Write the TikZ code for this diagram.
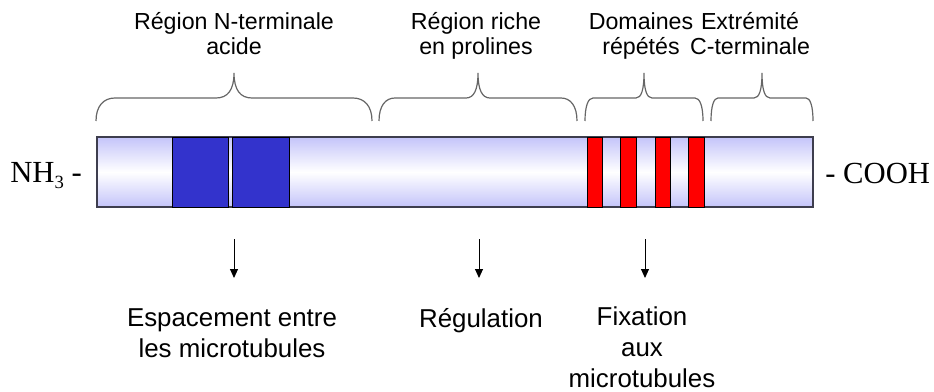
\documentclass[tikz,border=0pt]{standalone}
\usepackage{fontspec}
\setmainfont{Liberation Sans}
\newfontfamily\serifx{Liberation Serif}
\usetikzlibrary{arrows.meta}
\definecolor{lav}{HTML}{C4C4FA}
\definecolor{barline}{HTML}{3E3E4E}
\definecolor{domblue}{HTML}{3333CC}
\definecolor{domred}{HTML}{FF0000}
\definecolor{braceg}{HTML}{666666}
\newcommand\protbrace[5]{%
 \draw[bracecol] (#1,121) .. controls (#1,106) and ({#1+0.4*#4},98) .. ({#1+#4},98)
   -- ({#2-#5},98) .. controls ({#2-0.35*#5},98) and (#2,90) .. (#2,73)
   .. controls (#2,90) and ({#2+0.35*#5},98) .. ({#2+#5},98)
   -- ({#3-#4},98) .. controls ({#3-0.4*#4},98) and (#3,106) .. (#3,121);}
\begin{document}
\begin{tikzpicture}[x=0.75pt,y=-0.75pt,
  toptxt/.style={font=\fontsize{17.4}{18.75}\selectfont, align=center, anchor=base, inner sep=0pt},
  bottxt/.style={font=\fontsize{19.4}{22.9}\selectfont, align=center, anchor=base, inner sep=0pt},
  endtxt/.style={font=\serifx\fontsize{23}{23}\selectfont, anchor=base west, inner sep=0pt},
  bracecol/.style={draw=braceg, line width=0.9pt},
  arr/.style={-{Triangle[length=6.75pt,width=6pt]}, line width=0.75pt},
  bluedom/.style={fill=domblue, draw=black, line width=0.6pt},
  reddom/.style={fill=domred, draw=black, line width=0.6pt}]
\useasboundingbox (0,0) rectangle (934,392);
% protein bar
\draw[draw=barline, line width=1.1pt, top color=lav, bottom color=lav, middle color=white] (97,137) rectangle (813,207);
% acidic N-terminal domains
\draw[bluedom] (172,137) rectangle (228,207);
\draw[bluedom] (232,137) rectangle (289,207);
% repeats
\draw[reddom] (587,137) rectangle (602,207);
\draw[reddom] (620,137) rectangle (636,207);
\draw[reddom] (655,137) rectangle (670,207);
\draw[reddom] (688,137) rectangle (704,207);
% braces
\protbrace{96}{234}{372}{19}{18}
\protbrace{379}{478}{577}{16}{12}
\protbrace{585}{644}{703}{8}{8}
\protbrace{711}{762}{813}{7}{8}
% labels (anchor=base is the baseline of the last line)
\node[toptxt] (t1) at (234,55) {Région N-terminale\\acide};
\node[toptxt] (t2) at (476,55) {Région riche\\en prolines};
\node[toptxt] (t3) at (641,55) {Domaines\\répétés};
\node[toptxt] (t4) at (750,55) {Extrémité\\C-terminale};
\node[endtxt] (nh) at (10,182) {NH\raisebox{-0.22em}{\fontsize{14}{14}\selectfont 3} -};
\node[endtxt] (cooh) at (825,183) {- COOH};
\node[bottxt] (b1) at (232,357) {Espacement entre\\les microtubules};
\node[bottxt] (b2) at (481,327) {Régulation};
\node[bottxt] (b3) at (642,387) {Fixation\\aux\\microtubules};
% arrows
\coordinate (a1s) at (234,239); \coordinate (a1e) at (234,278);
\coordinate (a2s) at (479,239); \coordinate (a2e) at (479,278);
\coordinate (a3s) at (645,239); \coordinate (a3e) at (645,278);
\draw[arr] (a1s) -- (a1e);
\draw[arr] (a2s) -- (a2e);
\draw[arr] (a3s) -- (a3e);
\end{tikzpicture}
\end{document}
